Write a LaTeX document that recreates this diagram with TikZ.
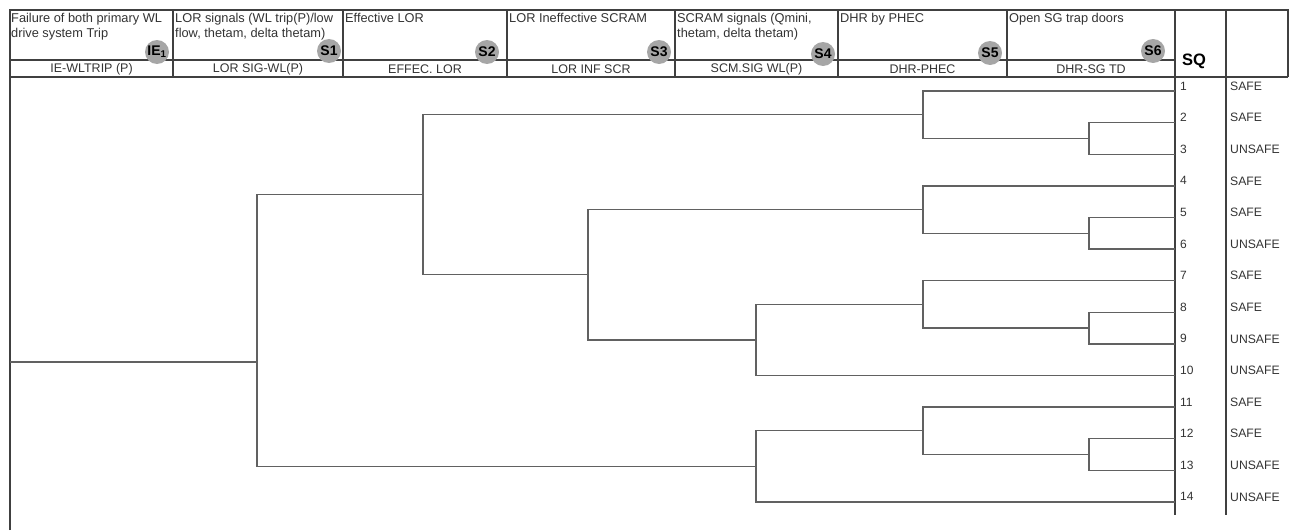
\documentclass[tikz,border=0pt]{standalone}
\usepackage{fontspec}
\setmainfont{Liberation Sans}
\begin{document}
\begin{tikzpicture}[x=1pt,y=-1pt,
  frame/.style={draw=black!75, line width=1.2pt},
  branch/.style={draw=black!62, line width=1.4pt},
  htext/.style={anchor=north west, align=left, inner sep=0pt, text=black!80, font=\fontsize{12.8}{15}\selectfont},
  blabel/.style={inner sep=0pt, text=black!80, font=\fontsize{12.5}{14}\selectfont},
  badge/.style={circle, fill=black!35, minimum size=24pt, inner sep=0pt, font=\bfseries\fontsize{14}{14}\selectfont},
  num/.style={anchor=west, inner sep=0pt, text=black!80, font=\fontsize{12}{13}\selectfont},
  res/.style={anchor=west, inner sep=0pt, text=black!80, font=\fontsize{12.2}{13}\selectfont}]
\useasboundingbox (0,0) rectangle (1290,530);
% header frame
\draw[frame] (10,530) -- (10,10) -- (1288,10) -- (1288,77);
\draw[frame] (10,77) -- (1288,77);
\draw[frame] (10,60) -- (1175,60);
\foreach \x in {173,343,507,675,838,1007} \draw[frame] (\x,10) -- (\x,77);
\draw[frame] (1175,10) -- (1175,515);
\draw[frame] (1226,10) -- (1226,515);
% header texts
\node[htext] (h0) at (11,13) {Failure of both primary WL\\drive system Trip};
\node[htext] (h1) at (175,13) {LOR signals (WL trip(P)/low\\flow, thetam, delta thetam)};
\node[htext] (h2) at (345,13) {Effective LOR};
\node[htext] (h3) at (509,13) {LOR Ineffective SCRAM};
\node[htext] (h4) at (677,13) {SCRAM signals (Qmini,\\thetam, delta thetam)};
\node[htext] (h5) at (840,13) {DHR by PHEC};
\node[htext] (h6) at (1009,13) {Open SG trap doors};
\node[blabel] (b0) at (91.5,69) {IE-WLTRIP (P)};
\node[blabel] (b1) at (258,69) {LOR SIG-WL(P)};
\node[blabel] (b2) at (425,69) {EFFEC. LOR};
\node[blabel] (b3) at (591,69) {LOR INF SCR};
\node[blabel] (b4) at (756.5,69) {SCM.SIG WL(P)};
\node[blabel] (b5) at (922.5,69) {DHR-PHEC};
\node[blabel] (b6) at (1091,69) {DHR-SG TD};
\node[badge] (c0) at (157,52) {IE\textsubscript{1}};
\node[badge] (c1) at (329,51) {S1};
\node[badge] (c2) at (487,52) {S2};
\node[badge] (c3) at (659,52) {S3};
\node[badge] (c4) at (823,54) {S4};
\node[badge] (c5) at (990,53) {S5};
\node[badge] (c6) at (1153,51) {S6};
\node[inner sep=0pt, font=\bfseries\fontsize{16.5}{18}\selectfont] (sq) at (1194,61) {SQ};
% rows
\foreach \i/\r in {1/SAFE,2/SAFE,3/UNSAFE,4/SAFE,5/SAFE,6/UNSAFE,7/SAFE,8/SAFE,9/UNSAFE,10/UNSAFE,11/SAFE,12/SAFE,13/UNSAFE,14/UNSAFE}{
  \coordinate (r\i) at (1175,{91+31.6*(\i-1)});
  \node[num] (n\i) at (1180,{86+31.6*(\i-1)}) {\i};
  \node[res] (o\i) at (1230,{86+31.6*(\i-1)}) {\r};
}
% junctions
\coordinate (j6a) at (1089,138.4);
\coordinate (j6b) at (1089,233.2);
\coordinate (j6c) at (1089,328);
\coordinate (j6d) at (1089,454.4);
\coordinate (j5a) at (923,114.7);
\coordinate (j5b) at (923,209.5);
\coordinate (j5c) at (923,304.3);
\coordinate (j5d) at (923,430.7);
\coordinate (j4c) at (756,339.85);
\coordinate (j4d) at (756,466.25);
\coordinate (j3) at (588,274.7);
\coordinate (j2) at (423,194.7);
\coordinate (j1) at (257,362);
\coordinate (ie) at (10,362);
\draw[branch] (r2) -| (j6a) |- (r3);
\draw[branch] (r5) -| (j6b) |- (r6);
\draw[branch] (r8) -| (j6c) |- (r9);
\draw[branch] (r12) -| (j6d) |- (r13);
\draw[branch] (r1) -| (j5a) |- (j6a);
\draw[branch] (r4) -| (j5b) |- (j6b);
\draw[branch] (r7) -| (j5c) |- (j6c);
\draw[branch] (r11) -| (j5d) |- (j6d);
\draw[branch] (j5c) -| (j4c) |- (r10);
\draw[branch] (j5d) -| (j4d) |- (r14);
\draw[branch] (j5b) -| (j3) |- (j4c);
\draw[branch] (j5a) -| (j2) |- (j3);
\draw[branch] (j2) -| (j1) |- (j4d);
\draw[branch] (ie) -- (j1);
\end{tikzpicture}
\end{document}
